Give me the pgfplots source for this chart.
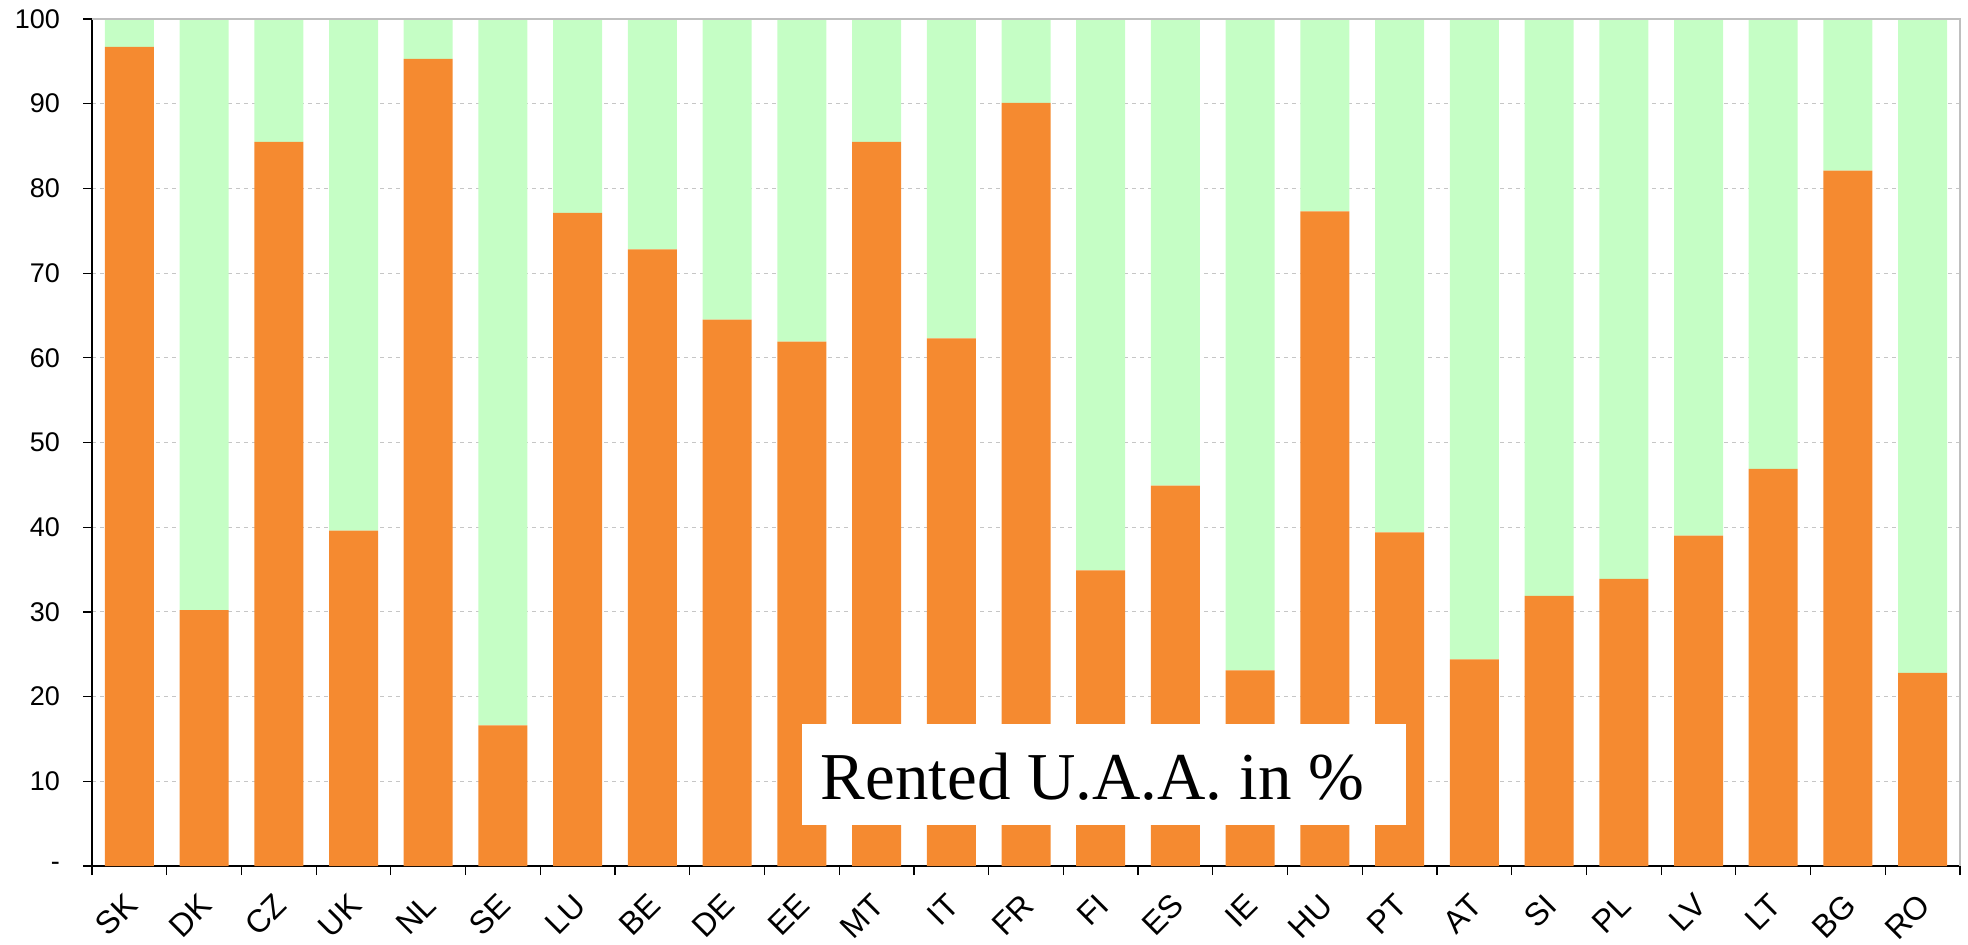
\documentclass[border=0pt]{standalone}
\usepackage{pgfplots}
\pgfplotsset{compat=1.18}
\usepackage{fontspec}
\setmainfont{Liberation Sans}
\newfontfamily\timesfont{Liberation Serif}
\definecolor{rentorange}{HTML}{F58A30}
\definecolor{ownedgreen}{HTML}{C5FEC5}
\pgfplotstableread{
x rented rest
0 96.7 3.3
1 30.2 69.8
2 85.5 14.5
3 39.6 60.4
4 95.3 4.7
5 16.6 83.4
6 77.1 22.9
7 72.8 27.2
8 64.5 35.5
9 61.9 38.1
10 85.5 14.5
11 62.3 37.7
12 90.1 9.9
13 34.9 65.1
14 44.9 55.1
15 23.1 76.9
16 77.3 22.7
17 39.4 60.6
18 24.4 75.6
19 31.9 68.1
20 33.9 66.1
21 39.0 61.0
22 46.9 53.1
23 82.1 17.9
24 22.8 77.2
}\datatable
\begin{document}
\begin{tikzpicture}
\begin{axis}[
  at={(0,0)}, anchor=south west,
  scale only axis,
  width=934pt, height=423.5pt,
  xmin=-0.5, xmax=24.5, ymin=0, ymax=100,
  ybar stacked, bar width=24.5pt,
  axis x line*=bottom, axis y line*=left,
  axis line style={black, line width=1pt},
  xtick={0,...,24},
  xticklabels={SK,DK,CZ,UK,NL,SE,LU,BE,DE,EE,MT,IT,FR,FI,ES,IE,HU,PT,AT,SI,PL,LV,LT,BG,RO},
  major x tick style={draw=none},
  minor xtick={-0.5,0.5,...,24.5},
  minor x tick style={black, line width=0.6pt},
  minor tick length=4.5pt,
  tick align=outside,
  ytick={0,10,...,100},
  yticklabels={{-\hspace{15pt}},10,20,30,40,50,60,70,80,90,100},
  major y tick style={black, line width=0.6pt},
  major tick length=4.5pt,
  ymajorgrids,
  major grid style={gray!45, line width=0.5pt, dash pattern=on 2pt off 2pt},
  /pgf/number format/assume math mode=true,
  yticklabel style={font=\fontsize{13.5}{14}\selectfont, anchor=east, xshift=-8pt},
  xticklabel style={font=\fontsize{16}{16}\selectfont, xshift=3.5pt, yshift=-10pt, rotate=45, anchor=east},
  clip=false,
  after end axis/.code={
    \fill[white] (axis cs:9.0,4.84) rectangle (axis cs:17.09,16.77);
    \node[anchor=base, inner sep=0pt] at (axis cs:12.89,7.91) {\timesfont\fontsize{33.5}{34}\selectfont Rented U.A.A. in \%};
  },
]
\draw[gray!50, line width=1pt] (rel axis cs:0,1) -- (rel axis cs:1,1) -- (rel axis cs:1,0);
\addplot[fill=rentorange, draw=none] table[x=x, y=rented] {\datatable};
\addplot[fill=ownedgreen, draw=none] table[x=x, y=rest] {\datatable};
\end{axis}
\pgfresetboundingbox
\useasboundingbox (-46pt,-39pt) rectangle (938pt,433pt);
\end{tikzpicture}
\end{document}
